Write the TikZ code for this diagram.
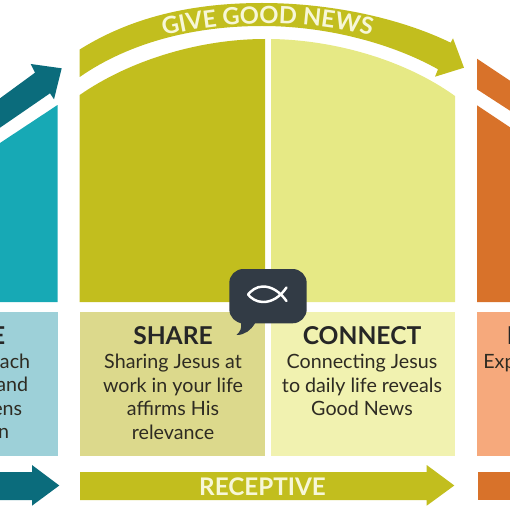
\documentclass[tikz,border=0pt]{standalone}
\usepackage{fontspec}
\setmainfont{Lato}
\usetikzlibrary{decorations.text}
\definecolor{cteal}{HTML}{17A9B5}
\definecolor{cdteal}{HTML}{0B6C7C}
\definecolor{clteal}{HTML}{9DD0D8}
\definecolor{colive}{HTML}{C2BE1E}
\definecolor{clolive}{HTML}{DCD98C}
\definecolor{cyell}{HTML}{E6E985}
\definecolor{clyell}{HTML}{F1F2B0}
\definecolor{ccream}{HTML}{F7F7D8}
\definecolor{corange}{HTML}{D8722A}
\definecolor{clorange}{HTML}{F6A97C}
\definecolor{cslate}{HTML}{323B45}
\definecolor{cink}{HTML}{2E2B22}
\tikzset{
  head/.style={font=\fontsize{14}{14}\selectfont\bfseries,text=black!85,inner sep=0pt,anchor=base},
  txt/.style={font=\fontsize{11.2}{13.4}\selectfont,text=cink,inner sep=0pt,align=center,anchor=north},
  band/.style={font=\fontsize{13.8}{13.8}\selectfont\bfseries,text=ccream,inner sep=0pt},
}
\begin{document}
\begin{tikzpicture}[x=0.02cm,y=-0.02cm]
  \useasboundingbox (0,0) rectangle (510,510);
  \clip (0,0) rectangle (510,510);
  % links
  \fill[cteal] (0,143) -- (57.5,105) -- (57.5,302) -- (0,302) -- cycle;
  \fill[cdteal] (0,98.3) -- (35,72.7) -- (30.7,64) -- (61.7,68.3) -- (54,99.3) -- (50,93.3) -- (0,127.7) -- cycle;
  \fill[clteal] (0,312.3) rectangle (57.5,455.7);
  \fill[cdteal] (0,472) -- (32,472) -- (32,465) -- (59.3,485.5) -- (32,505.7) -- (32,500) -- (0,500) -- cycle;
  \node[head,anchor=base east] (leftt) at (5.5,344) {E};
  \node[txt,anchor=base east] (left1) at (30.5,368) {ach};
  \node[txt,anchor=base east] (left2) at (28.5,391.5) {and};
  \node[txt,anchor=base east] (left3) at (22.5,415) {ens};
  \node[txt,anchor=base east] (left4) at (9.5,438.5) {n};
  % midden
  \fill[colive] (79.7,95) .. controls (130,60) and (200,39) .. (265,39) -- (265,302) -- (79.7,302) -- cycle;
  \fill[cyell] (271,39) .. controls (335,40) and (405,60) .. (455,96) -- (455,302) -- (271,302) -- cycle;
  \fill[colive] (79.7,49.5) .. controls (130,18) and (190,3) .. (262,3)
    .. controls (330,3) and (400,18) .. (450.7,42.7) -- (453,38.3) -- (464,67.7) -- (435,76.7) -- (438,69.3)
    .. controls (395,45) and (330,26) .. (262,26) .. controls (195,26) and (130,42) .. (79.7,77) -- cycle;
  \path[decorate,decoration={text along path,text align=center,
    text={|\fontsize{13.5}{13.5}\selectfont\bfseries\color{ccream}|GIVE GOOD NEWS}}]
    (155,38.5) .. controls (195,27) and (235,23.5) .. (267,23.5) .. controls (300,23.5) and (340,27) .. (380,38.5);
  \fill[clolive] (80,312.3) rectangle (265,455.7);
  \fill[clyell] (271,312.3) rectangle (455,455.7);
  \node[head] (sharet) at (173,344) {SHARE};
  \node[txt] (sharex) at (173,354) {Sharing Jesus at\\work in your life\\affirms His\\relevance};
  \node[head] (connt) at (362,344) {CONNECT};
  \node[txt] (connx) at (362,354) {Connecting Jesus\\to daily life reveals\\Good News};
  \fill[colive] (80,472) -- (426.7,472) -- (426.7,465) -- (454.3,485.5) -- (426.7,505.7) -- (426.7,500) -- (80,500) -- cycle;
  \node[band] (recv) at (262.5,486.5) {RECEPTIVE};
  % rechts
  \fill[corange] (477,58.7) -- (510,80.7) -- (510,110.7) -- (477,89.3) -- cycle;
  \fill[corange] (477,105.3) -- (510,127.3) -- (510,302) -- (477,302) -- cycle;
  \fill[clorange] (477,312.3) rectangle (510,455.7);
  \fill[corange] (477.7,472) rectangle (510,500);
  \node[head,anchor=base west] (rightt) at (506.5,344) {E};
  \node[txt,anchor=base west] (right1) at (483,368) {Exp};
  % bubble
  \fill[cslate,rounded corners=8pt] (229.3,269) rectangle (306.7,323.3);
  \fill[cslate] (232,315) -- (241,323.3) .. controls (242,328) and (240,332) .. (236.5,335) .. controls (245,335) and (251,330) .. (255,323.3) -- cycle;
  \draw[white,line width=1.4pt,line cap=round,line join=round] (286.5,287.5) .. controls (280,297) and (272,302) .. (263,302)
    .. controls (256,302) and (251,298) .. (248,294.5) .. controls (251,291) and (256,286.5) .. (263,286.5)
    .. controls (272,286.5) and (280,292) .. (286.5,301);
\end{tikzpicture}
\end{document}
